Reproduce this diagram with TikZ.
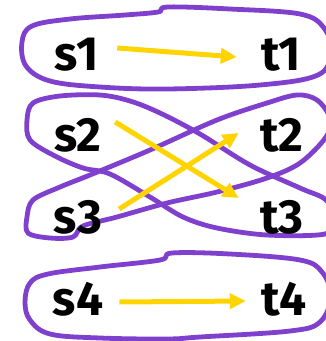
\documentclass[tikz,border=0pt]{standalone}
\usepackage{fontspec}
\newfontfamily\lab{Fira Sans}
\usetikzlibrary{arrows.meta}
\definecolor{loopc}{RGB}{128,64,206}
\definecolor{arrc}{RGB}{255,212,0}
\begin{document}
\begin{tikzpicture}[x=1pt,y=-1pt,
  lbl/.style={font=\lab\bfseries\fontsize{48}{48}\selectfont, inner sep=0pt, minimum width=50pt, minimum height=36pt},
  grp/.style={draw=loopc, line width=4.8pt, line join=round},
  arr/.style={draw=arrc, line width=5pt, -{Triangle[length=16pt,width=15pt]}}]
\useasboundingbox (0,0) rectangle (326,341);
\clip (0,0) rectangle (326,341);
% groups
\draw[grp] plot[smooth cycle, tension=0.6] coordinates {(22,42) (32,26) (70,19) (125,15) (158,12) (168,7) (230,9) (300,14) (324,28) (331,52) (318,75) (260,85) (167,89) (100,87) (50,81) (26,66)};
\draw[grp] plot[smooth cycle, tension=0.6] coordinates {(25,302) (30,283) (48,274) (100,267) (160,260) (172,253) (230,254) (300,260) (322,272) (331,296) (320,322) (290,331) (200,337) (167,339) (100,338) (50,334) (30,320)};
\draw[grp] plot[smooth cycle, tension=0.55] coordinates {(27,120) (33,103) (60,96) (100,95) (130,101) (160,113) (200,134) (250,165) (300,188) (326,200) (333,220) (325,234) (267,235) (217,228) (183,217) (150,197) (110,174) (83,168) (55,156) (30,140)};
\draw[grp] plot[smooth cycle, tension=0.55] coordinates {(27,217) (33,200) (60,187) (90,175) (150,150) (217,120) (267,103) (297,95) (317,100) (330,118) (326,137) (300,163) (267,178) (217,192) (167,203) (117,217) (83,226) (73,237) (50,238) (28,233)};
% labels
\node[lbl] (s1) at (77,55) {s1};
\node[lbl] (t1) at (281,55) {t1};
\node[lbl] (s2) at (78,135) {s2};
\node[lbl] (t2) at (282,135) {t2};
\node[lbl] (s3) at (78,217) {s3};
\node[lbl] (t3) at (282,217) {t3};
\node[lbl] (s4) at (78,299) {s4};
\node[lbl] (t4) at (284,299) {t4};
% arrows
\draw[arr] ([shift={(15,-7)}]s1.east) -- ([shift={(-19,2)}]t1.west);
\draw[arr] ([shift={(12,-13)}]s2.east) -- ([shift={(-18,-19)}]t3.west);
\draw[arr] ([shift={(16,-8)}]s3.east) -- ([shift={(-18,-2)}]t2.west);
\draw[arr] ([shift={(16,3)}]s4.east) -- ([shift={(-13,2)}]t4.west);
\end{tikzpicture}
\end{document}
